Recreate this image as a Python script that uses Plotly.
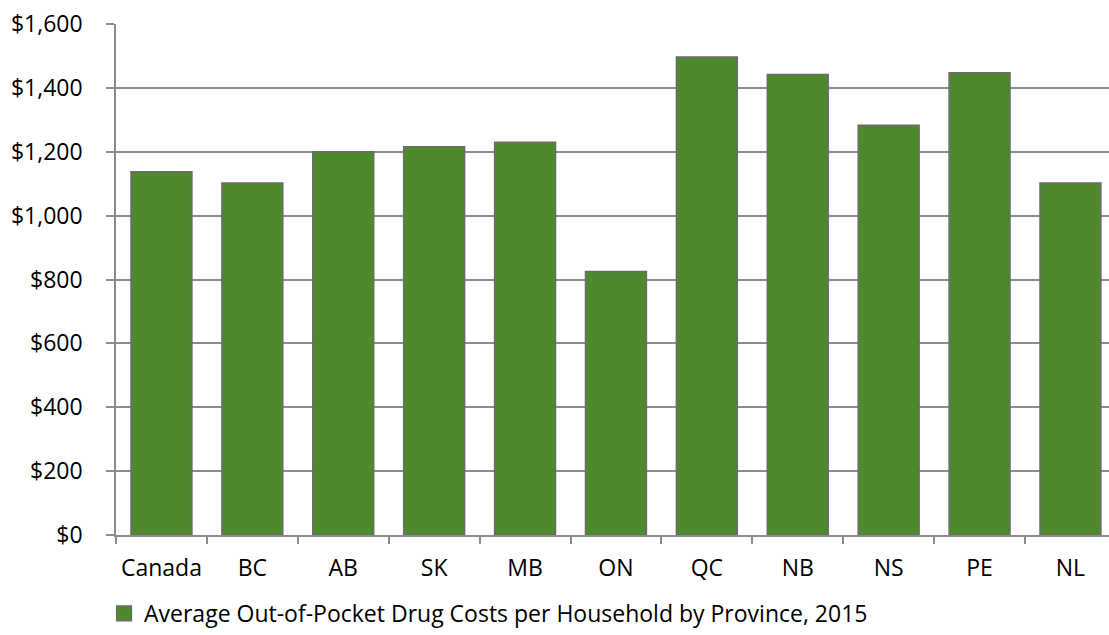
import plotly.graph_objects as go

categories = ["Canada", "BC", "AB", "SK", "MB", "ON", "QC", "NB", "NS", "PE", "NL"]
values = [1137, 1102, 1200, 1216, 1230, 825, 1497, 1442, 1283, 1447, 1102]
series_name = "Average Out-of-Pocket Drug Costs per Household by Province, 2015"
y_ticks = [0, 200, 400, 600, 800, 1000, 1200, 1400, 1600]
y_tick_labels = ["$0", "$200", "$400", "$600", "$800", "$1,000", "$1,200", "$1,400", "$1,600"]

FONT = "Open Sans"
GRID = "#8c8c8c"
GREEN = "#4e8a2d"
EDGE = "#6b6b6b"

fig = go.Figure()
fig.add_trace(go.Bar(
    x=categories, y=values, name=series_name,
    marker=dict(color=GREEN, line=dict(color=EDGE, width=1.5)),
    showlegend=False,
))
# legend entry with a larger square swatch
fig.add_trace(go.Scatter(
    x=[None], y=[None], mode="markers", name=series_name,
    marker=dict(symbol="square", size=15, color=GREEN, line=dict(color=EDGE, width=1.2)),
    showlegend=True,
))

fig.update_layout(
    width=1109, height=635,
    margin=dict(l=116, r=0, t=24, b=100),
    paper_bgcolor="white", plot_bgcolor="white",
    bargap=0.33,
    font=dict(family=FONT, size=23, color="#000000"),
    showlegend=True,
    legend=dict(
        orientation="h", xref="container", yref="container",
        x=0.0938, xanchor="left", y=0.0, yanchor="bottom",
        font=dict(family=FONT, size=23, color="#000000"),
        bgcolor="rgba(0,0,0,0)", itemwidth=30,
    ),
    xaxis=dict(
        type="category", range=[-0.5, 10.424], automargin=False,
        showgrid=False, showline=True, linecolor=GRID, linewidth=1.5,
        ticks="outside", tickson="boundaries", ticklen=7, tickcolor=GRID, tickwidth=1.5,
        ticklabelstandoff=12,
    ),
    yaxis=dict(
        range=[0, 1600], tickvals=y_ticks, ticktext=y_tick_labels, automargin=False,
        showgrid=True, gridcolor=GRID, gridwidth=1.5,
        showline=True, linecolor=GRID, linewidth=1.5,
        ticks="outside", ticklen=8, tickcolor=GRID, tickwidth=1.5,
        ticklabelstandoff=19, zeroline=False,
    ),
)

fig.write_html(
    "out.html",
    config={"displayModeBar": False},
    post_script="document.body.style.margin='0';document.body.style.overflow='hidden';",
)
